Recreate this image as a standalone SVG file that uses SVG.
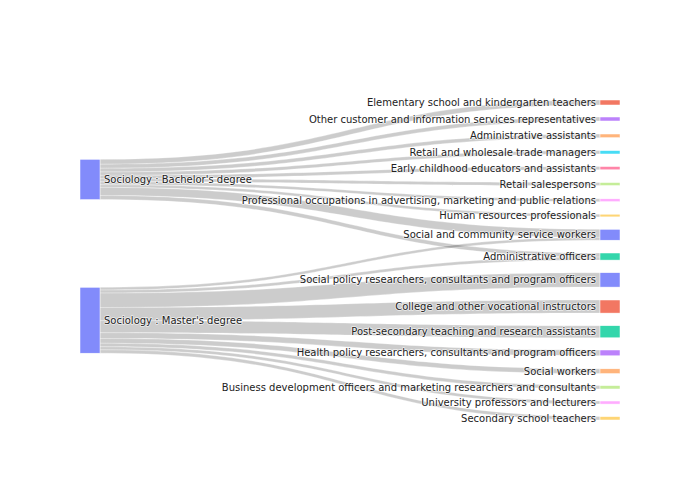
<svg xmlns="http://www.w3.org/2000/svg" width="700" height="500" viewBox="0 0 700 500">
<style>
.lk{fill:rgba(0,0,0,0.2);stroke:#fff;stroke-width:0.5;stroke-opacity:0.6}
.nd{fill-opacity:0.8;stroke:#fff;stroke-width:0.5}
.b{fill:#636efa}.r{fill:#EF553B}.g{fill:#00cc96}.p{fill:#ab63fa}.o{fill:#FFA15A}.c{fill:#19d3f3}.k{fill:#FF6692}.l{fill:#B6E880}.m{fill:#FF97FF}.y{fill:#FECB52}
text{font-family:"DejaVu Sans",Verdana,sans-serif;font-size:10px;fill:#222;stroke:#fff;stroke-width:1.6px;stroke-opacity:0.7;stroke-linejoin:round;paint-order:stroke}
.rt{text-anchor:end}
</style>
<rect width="700" height="500" fill="#fff"/>
<g id="links">
<path class="lk" d="M100,159.3C350,159.3 350,100 600,100L600,105C350,105 350,164.3 100,164.3Z"/>
<path class="lk" d="M100,164.3C350,164.3 350,117 600,117L600,121C350,121 350,168.3 100,168.3Z"/>
<path class="lk" d="M100,168.3C350,168.3 350,134 600,134L600,137.7C350,137.7 350,172 100,172Z"/>
<path class="lk" d="M100,172C350,172 350,150.6 600,150.6L600,154C350,154 350,175.4 100,175.4Z"/>
<path class="lk" d="M100,175.4C350,175.4 350,166.5 600,166.5L600,169.8C350,169.8 350,178.7 100,178.7Z"/>
<path class="lk" d="M100,178.7C350,178.7 350,182.5 600,182.5L600,185.6C350,185.6 350,181.8 100,181.8Z"/>
<path class="lk" d="M100,181.8C350,181.8 350,198.8 600,198.8L600,201.7C350,201.7 350,184.7 100,184.7Z"/>
<path class="lk" d="M100,184.7C350,184.7 350,214.2 600,214.2L600,216.9C350,216.9 350,187.4 100,187.4Z"/>
<path class="lk" d="M100,187.4C350,187.4 350,229.3 600,229.3L600,237.4C350,237.4 350,195.5 100,195.5Z"/>
<path class="lk" d="M100,195.5C350,195.5 350,253 600,253L600,257.1C350,257.1 350,199.6 100,199.6Z"/>
<path class="lk" d="M100,287.3C350,287.3 350,237.4 600,237.4L600,240.2C350,240.2 350,290.1 100,290.1Z"/>
<path class="lk" d="M100,290.1C350,290.1 350,257.1 600,257.1L600,260.1C350,260.1 350,293.1 100,293.1Z"/>
<path class="lk" d="M100,293.1C350,293.1 350,272.7 600,272.7L600,287.1C350,287.1 350,307.5 100,307.5Z"/>
<path class="lk" d="M100,307.5C350,307.5 350,300 600,300L600,313.1C350,313.1 350,320.6 100,320.6Z"/>
<path class="lk" d="M100,320.6C350,320.6 350,325.7 600,325.7L600,337.8C350,337.8 350,332.7 100,332.7Z"/>
<path class="lk" d="M100,332.7C350,332.7 350,350 600,350L600,355.8C350,355.8 350,338.5 100,338.5Z"/>
<path class="lk" d="M100,338.5C350,338.5 350,368.8 600,368.8L600,373.6C350,373.6 350,343.3 100,343.3Z"/>
<path class="lk" d="M100,343.3C350,343.3 350,385.6 600,385.6L600,389C350,389 350,346.7 100,346.7Z"/>
<path class="lk" d="M100,346.7C350,346.7 350,401 600,401L600,404.1C350,404.1 350,349.8 100,349.8Z"/>
<path class="lk" d="M100,349.8C350,349.8 350,416.6 600,416.6L600,420C350,420 350,353.2 100,353.2Z"/>
</g>
<g id="node-bachelor"><rect class="nd b" x="80" y="159.3" width="20" height="40.3"/><text x="104" y="182.9">Sociology : Bachelor's degree</text></g>
<g id="node-master"><rect class="nd b" x="80" y="287.3" width="20" height="65.9"/><text x="104" y="323.8">Sociology : Master's degree</text></g>
<g id="node-elementary"><rect class="nd r" x="600" y="100" width="20" height="5"/><text class="rt" x="596" y="106">Elementary school and kindergarten teachers</text></g>
<g id="node-othercustomer"><rect class="nd p" x="600" y="117" width="20" height="4"/><text class="rt" x="596" y="122.5">Other customer and information services representatives</text></g>
<g id="node-adminassistants"><rect class="nd o" x="600" y="134" width="20" height="3.7"/><text class="rt" x="596" y="139.3">Administrative assistants</text></g>
<g id="node-retailmanagers"><rect class="nd c" x="600" y="150.6" width="20" height="3.4"/><text class="rt" x="596" y="155.8">Retail and wholesale trade managers</text></g>
<g id="node-earlychildhood"><rect class="nd k" x="600" y="166.5" width="20" height="3.3"/><text class="rt" x="596" y="171.6">Early childhood educators and assistants</text></g>
<g id="node-retailsales"><rect class="nd l" x="600" y="182.5" width="20" height="3.1"/><text class="rt" x="596" y="187.5">Retail salespersons</text></g>
<g id="node-professional"><rect class="nd m" x="600" y="198.8" width="20" height="2.9"/><text class="rt" x="596" y="203.7">Professional occupations in advertising, marketing and public relations</text></g>
<g id="node-hr"><rect class="nd y" x="600" y="214.2" width="20" height="2.7"/><text class="rt" x="596" y="219">Human resources professionals</text></g>
<g id="node-socialcommunity"><rect class="nd b" x="600" y="229.3" width="20" height="10.9"/><text class="rt" x="596" y="238.2">Social and community service workers</text></g>
<g id="node-adminofficers"><rect class="nd g" x="600" y="253" width="20" height="7.1"/><text class="rt" x="596" y="260">Administrative officers</text></g>
<g id="node-socialpolicy"><rect class="nd b" x="600" y="272.7" width="20" height="14.4"/><text class="rt" x="596" y="283.4">Social policy researchers, consultants and program officers</text></g>
<g id="node-college"><rect class="nd r" x="600" y="300" width="20" height="13.1"/><text class="rt" x="596" y="310">College and other vocational instructors</text></g>
<g id="node-postsecondary"><rect class="nd g" x="600" y="325.7" width="20" height="12.1"/><text class="rt" x="596" y="335.2">Post-secondary teaching and research assistants</text></g>
<g id="node-healthpolicy"><rect class="nd p" x="600" y="350" width="20" height="5.8"/><text class="rt" x="596" y="356.4">Health policy researchers, consultants and program officers</text></g>
<g id="node-socialworkers"><rect class="nd o" x="600" y="368.8" width="20" height="4.8"/><text class="rt" x="596" y="374.7">Social workers</text></g>
<g id="node-business"><rect class="nd l" x="600" y="385.6" width="20" height="3.4"/><text class="rt" x="596" y="390.8">Business development officers and marketing researchers and consultants</text></g>
<g id="node-university"><rect class="nd m" x="600" y="401" width="20" height="3.1"/><text class="rt" x="596" y="406">University professors and lecturers</text></g>
<g id="node-secondary"><rect class="nd y" x="600" y="416.6" width="20" height="3.4"/><text class="rt" x="596" y="421.8">Secondary school teachers</text></g>
</svg>
